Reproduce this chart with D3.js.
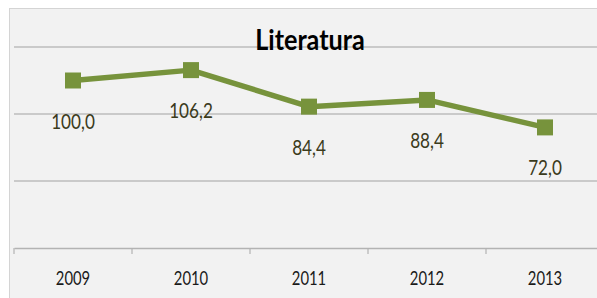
<!DOCTYPE html>
<html>
<head>
<meta charset="utf-8">
<script src="https://cdn.jsdelivr.net/npm/d3@7"></script>
<style>
  body { margin: 0; background: #fff; }
  text { font-family: Lato, "Open Sans", sans-serif; }
</style>
</head>
<body>
<div id="chart"></div>
<script>
// values
var years = ['2009', '2010', '2011', '2012', '2013'];
var values = [100.0, 106.2, 84.4, 88.4, 72.0];
var yTicks = [0, 40, 80, 120];
var title = 'Literatura';

var width = 597, height = 298;
var squash = 0.78; // the original text is narrow (Calibri)

var svg = d3.select('#chart')
    .append('svg')
        .attr('width', width)
        .attr('height', height);

// grey chart area
svg.append('rect')
    .attr('x', 9.5)
    .attr('y', 8.5)
    .attr('width', 600)
    .attr('height', 300)
    .style('fill', '#f2f2f2')
    .style('stroke', '#d4d4d4');

var x = d3.scaleBand()
    .domain(years)
    .range([14, 604]);

var y = d3.scaleLinear()
    .domain([0, 120])
    .range([248, 47]);

// gridlines
svg.append('g')
    .selectAll('line')
    .data(yTicks.slice(1))
    .enter()
    .append('line')
        .attr('x1', 14)
        .attr('x2', width)
        .attr('y1', function(d) { return y(d); })
        .attr('y2', function(d) { return y(d); })
        .style('stroke', '#bdbdbd')
        .style('stroke-width', 1.5);

// category axis
var xAxis = svg.append('g')
    .attr('transform', 'translate(0,' + y(0) + ')')
    .call(d3.axisBottom(x).tickSize(0).tickFormat(''));
xAxis.select('.domain')
    .attr('stroke', '#b3b3b3')
    .attr('stroke-width', 1.5);

// tick marks at band edges
svg.append('g')
    .selectAll('line')
    .data(years.concat(['end']))
    .enter()
    .append('line')
        .attr('x1', function(d, i) { return 14 + i * x.step(); })
        .attr('x2', function(d, i) { return 14 + i * x.step(); })
        .attr('y1', y(0))
        .attr('y2', y(0) + 6)
        .style('stroke', '#b3b3b3')
        .style('stroke-width', 1.2);

function cx(d, i) { return x(years[i]) + x.bandwidth() / 2; }

// year labels
svg.append('g')
    .selectAll('text')
    .data(years)
    .enter()
    .append('text')
        .attr('transform', function(d) {
            return 'translate(' + (x(d) + x.bandwidth() / 2) + ',285) scale(' + squash + ',1)';
        })
        .attr('text-anchor', 'middle')
        .attr('font-size', 19)
        .attr('fill', '#1a1a1a')
        .text(function(d) { return d; });

// the line
var line = d3.line()
    .x(cx)
    .y(function(d) { return y(d); });

svg.append('path')
    .datum(values)
    .attr('d', line)
    .style('fill', 'none')
    .style('stroke', '#77933c')
    .style('stroke-width', 5.5)
    .style('stroke-linejoin', 'round');

// square markers
svg.append('g')
    .selectAll('rect')
    .data(values)
    .enter()
    .append('rect')
        .attr('x', function(d, i) { return cx(d, i) - 8; })
        .attr('y', function(d) { return y(d) - 8; })
        .attr('width', 16)
        .attr('height', 16)
        .style('fill', '#77933c');

// value labels
svg.append('g')
    .selectAll('text')
    .data(values)
    .enter()
    .append('text')
        .attr('transform', function(d, i) {
            return 'translate(' + cx(d, i) + ',' + (y(d) + 48) + ') scale(' + squash + ',1)';
        })
        .attr('text-anchor', 'middle')
        .attr('font-size', 22)
        .attr('fill', '#3b3b1c')
        .text(function(d) { return d.toFixed(1).replace('.', ','); });

// title
svg.append('text')
    .attr('transform', 'translate(310,50) scale(0.9,1)')
    .attr('text-anchor', 'middle')
    .attr('font-size', 28)
    .attr('font-weight', 'bold')
    .attr('fill', '#000')
    .text(title);
</script>
</body>
</html>
